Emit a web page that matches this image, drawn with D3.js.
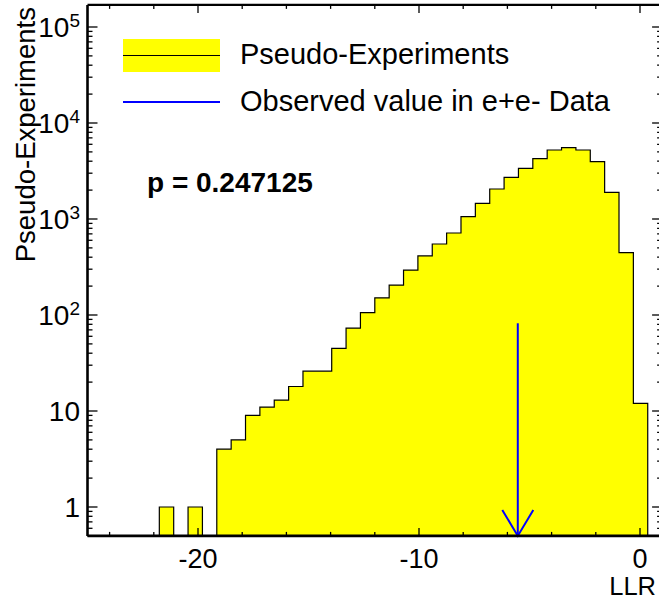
<!DOCTYPE html>
<html>
<head>
<meta charset="utf-8">
<script src="https://cdn.jsdelivr.net/npm/d3@7"></script>
<style>
  html, body { margin: 0; padding: 0; background: #fff; }
  svg { display: block; font-family: "Liberation Sans", Arial, Helvetica, sans-serif; }
</style>
</head>
<body>
<svg id="chart" width="659" height="599"></svg>
<script>
// ---------------- data ----------------
const histRange = [-25, 1];          // LLR histogram range
const binCounts = [0, 0, 0, 0, 0, 1, 0, 1, 0, 4,
                   5, 9, 11, 13, 18, 26, 26, 45, 73, 106,
                   151, 205, 294, 412, 549, 715, 1057, 1457, 2053, 2718,
                   3375, 4249, 5233, 5534, 5233, 3955, 1897, 446, 12, 0];
const observedLLR = -5.53;
const arrowTop = 82;
const pValueText = "p = 0.247125";
const xMajorTicks = [-20, -10, 0];
const xTickLabels = ["-20", "-10", "0"];
const xMinorTicks = [-24, -22, -18, -16, -14, -12, -8, -6, -4, -2];
const yMajorTicks = [1, 10, 100, 1000, 10000, 100000];
const yTickLabels = [["1", ""], ["10", ""], ["10", "2"], ["10", "3"], ["10", "4"], ["10", "5"]];
const yDomain = [0.5, 1.7e5];
const legendLabels = ["Pseudo-Experiments", "Observed value in e+e- Data"];
const xTitle = "LLR";
const yTitle = "Pseudo-Experiments";

(function () {
// ---------------- layout ----------------
const svg = d3.select("#chart");
const pL = 87.5, pR = 662.1;
const x = d3.scaleLinear().domain(histRange).range([pL, pR]);
// 96 px per decade, 1 -> 507
const y = d3.scaleLog().domain(yDomain)
  .range([507 - 96 * Math.log10(yDomain[0]), 507 - 96 * Math.log10(yDomain[1])]);
const pB = y(yDomain[0]), pT = y(yDomain[1]);

// ---------------- histogram ----------------
const nb = binCounts.length;
const bw = (histRange[1] - histRange[0]) / nb;
const pts = [];
binCounts.forEach((c, i) => {
  const lo = histRange[0] + i * bw, hi = lo + bw;
  const v = c > 0 ? Math.max(c, yDomain[0]) : yDomain[0];
  pts.push([x(lo), y(v)], [x(hi), y(v)]);
});
const areaPath = "M" + x(histRange[0]) + "," + pB + "L" + pts.map(p => p.join(",")).join("L") +
  "L" + x(histRange[1]) + "," + pB + "Z";
svg.append("path").attr("d", areaPath).attr("fill", "#ffff00").attr("stroke", "none");
let outline = "";
binCounts.forEach((c, i) => {
  const lo = histRange[0] + i * bw, hi = lo + bw;
  const v = c > 0 ? c : yDomain[0];
  outline += (i === 0 ? "M" + x(lo) + "," + pB + "L" : "L") + x(lo) + "," + y(v) + "L" + x(hi) + "," + y(v);
});
outline += "L" + x(histRange[1]) + "," + pB;
svg.append("path").attr("d", outline).attr("fill", "none").attr("stroke", "#000").attr("stroke-width", 1.2);

// ---------------- arrow ----------------
const ax = x(observedLLR);
const ag = svg.append("g").attr("stroke", "#0000ff").attr("stroke-width", 2).attr("fill", "none");
ag.append("line").attr("x1", ax).attr("x2", ax).attr("y1", y(arrowTop)).attr("y2", pB);
ag.append("path").attr("d", `M${ax - 15.5},${pB - 26}L${ax},${pB}L${ax + 15.5},${pB - 26}`);

// ---------------- axes ----------------
const axisG = svg.append("g").attr("stroke", "#000");
function tickLines(vals, fn) {
  vals.forEach(v => { const [x1, y1, x2, y2] = fn(v);
    axisG.append("line").attr("x1", x1).attr("y1", y1).attr("x2", x2).attr("y2", y2).attr("stroke-width", 1.3); });
}
tickLines(xMajorTicks, v => [x(v), pB, x(v), pB - 8]);
tickLines(xMinorTicks, v => [x(v), pB, x(v), pB - 4]);
tickLines(xMajorTicks, v => [x(v), pT, x(v), pT + 8]);
tickLines(xMinorTicks, v => [x(v), pT, x(v), pT + 4]);
const yMinor = [];
[0.1, 1, 10, 100, 1000, 10000, 100000].forEach(d => {
  for (let k = 2; k <= 9; k++) { const v = d * k; if (v >= yDomain[0] && v <= yDomain[1]) yMinor.push(v); }
});
tickLines(yMajorTicks, v => [pL, y(v), pL + 10, y(v)]);
tickLines(yMinor, v => [pL, y(v), pL + 5, y(v)]);
tickLines(yMajorTicks, v => [pR, y(v), pR - 10, y(v)]);
tickLines(yMinor, v => [pR, y(v), pR - 5, y(v)]);
axisG.append("line").attr("x1", pL).attr("x2", pL).attr("y1", pT).attr("y2", pB).attr("stroke-width", 2.6);
axisG.append("line").attr("x1", pL).attr("x2", pR).attr("y1", pB).attr("y2", pB).attr("stroke-width", 2.6);
axisG.append("line").attr("x1", pL).attr("x2", pR).attr("y1", pT).attr("y2", pT).attr("stroke-width", 2.2);
axisG.append("line").attr("x1", pR).attr("x2", pR).attr("y1", pT).attr("y2", pB).attr("stroke-width", 2.2);

// tick labels
xMajorTicks.forEach((v, i) => {
  svg.append("text").attr("x", x(v)).attr("y", 568).attr("text-anchor", "middle")
    .attr("font-size", 27).attr("fill", "#000").text(xTickLabels[i]);
});
yMajorTicks.forEach((v, i) => {
  const t = svg.append("text").attr("x", 80).attr("y", y(v) + 10).attr("text-anchor", "end")
    .attr("font-size", 28).attr("fill", "#000");
  t.append("tspan").text(yTickLabels[i][0]);
  if (yTickLabels[i][1]) t.append("tspan").attr("dy", -10).attr("font-size", 19).text(yTickLabels[i][1]);
});

// axis titles
svg.append("text").attr("x", 656).attr("y", 595).attr("text-anchor", "end")
  .attr("font-size", 25.5).attr("fill", "#000").text(xTitle);
svg.append("text").attr("transform", "translate(35,7) rotate(-90)").attr("text-anchor", "end")
  .attr("font-size", 27.5).attr("fill", "#000").text(yTitle);

// ---------------- legend ----------------
svg.append("rect").attr("x", 123).attr("y", 39).attr("width", 97).attr("height", 33).attr("fill", "#ffff00");
svg.append("line").attr("x1", 123).attr("x2", 220).attr("y1", 55.5).attr("y2", 55.5).attr("stroke", "#000").attr("stroke-width", 1.2);
svg.append("line").attr("x1", 123).attr("x2", 220).attr("y1", 102).attr("y2", 102).attr("stroke", "#0000ff").attr("stroke-width", 2);
svg.append("text").attr("x", 240).attr("y", 64).attr("font-size", 29).attr("fill", "#000").text(legendLabels[0]);
svg.append("text").attr("x", 240).attr("y", 111).attr("font-size", 29).attr("fill", "#000").text(legendLabels[1]);

// p-value
svg.append("text").attr("x", 147).attr("y", 192).attr("font-size", 28).attr("font-weight", "bold")
  .attr("fill", "#000").text(pValueText);
})();
</script>
</body>
</html>
